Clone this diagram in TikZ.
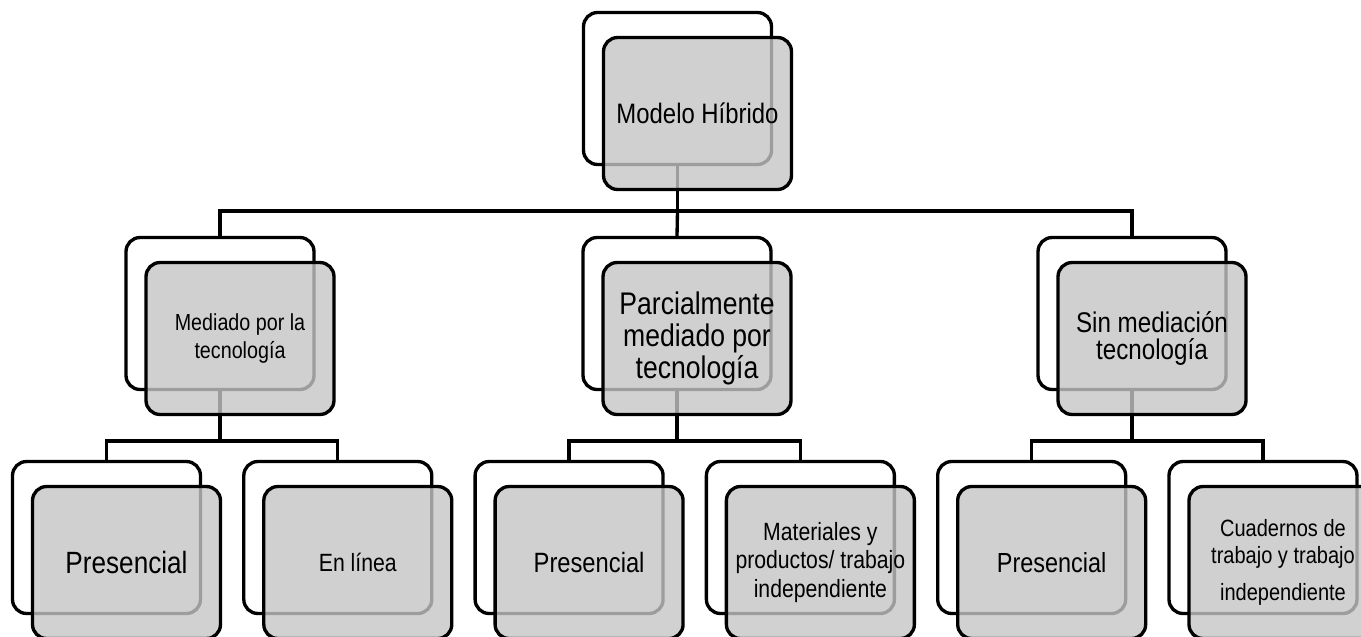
\documentclass[tikz,border=0pt]{standalone}
\usepackage{fontspec}
\setmainfont[FakeStretch=0.85]{Liberation Sans}
\usetikzlibrary{positioning}
\definecolor{boxgray}{RGB}{197,197,197}

\begin{document}
\begin{tikzpicture}[x=0.02cm, y=-0.02cm,
    backbox/.style={rectangle, rounded corners=0.28cm, draw=black, line width=1.9pt,
      fill=white, minimum width=3.76cm, minimum height=3.04cm},
    frontbox/.style={backbox, fill=boxgray, fill opacity=0.8, text opacity=1,
      align=center, inner sep=2pt},
    conn/.style={draw=black, line width=1.9pt}]

  \useasboundingbox (0,0) rectangle (1361,636);

  % back boxes
  \node[backbox] (modeloB)  at (677.5,88.5) {};
  \node[backbox] (mediadoB) at (220,313.5)  {};
  \node[backbox] (parcialB) at (677,313.5)  {};
  \node[backbox] (sinB)     at (1132,313.5) {};

  \node[backbox] (presAB)   at (106.5,537.5) {};
  \node[backbox, right=0.8cm of presAB]  (lineaB) {};
  \node[backbox, right=0.8cm of lineaB]  (presBB) {};
  \node[backbox, right=0.8cm of presBB]  (materB) {};
  \node[backbox, right=0.8cm of materB]  (presCB) {};
  \node[backbox, right=0.8cm of presCB]  (cuadB)  {};

  % connectors
  \coordinate (busTop) at (0,211);
  \coordinate (busLow) at (0,441);

  \draw[conn] (modeloB.south) -- (modeloB.south |- busTop) -| (mediadoB.north);
  \draw[conn] (modeloB.south |- busTop) -| (sinB.north);
  \draw[conn] (modeloB.south |- busTop) -- (parcialB.north);

  \draw[conn] (mediadoB.south) -- (mediadoB.south |- busLow) -| (presAB.north);
  \draw[conn] (mediadoB.south |- busLow) -| (lineaB.north);
  \draw[conn] (parcialB.south) -- (parcialB.south |- busLow) -| (presBB.north);
  \draw[conn] (parcialB.south |- busLow) -| (materB.north);
  \draw[conn] (sinB.south) -- (sinB.south |- busLow) -| (presCB.north);
  \draw[conn] (sinB.south |- busLow) -| (cuadB.north);

  % front boxes
  \node[frontbox, font=\fontsize{16}{19}\selectfont] (modelo) at ([shift={(20,25)}]modeloB) {Modelo Híbrido};
  \node[frontbox, font=\fontsize{13.2}{15.4}\selectfont] (mediado) at ([shift={(20,25)}]mediadoB) {Mediado por la\\tecnología};
  \node[frontbox, font=\fontsize{17.8}{18.4}\selectfont] (parcial) at ([shift={(20,25)}]parcialB) {Parcialmente\\mediado por\\tecnología};
  \node[frontbox, font=\fontsize{16.2}{15.6}\selectfont] (sin) at ([shift={(20,25)}]sinB) {Sin mediación\\tecnología};

  \node[frontbox, font=\fontsize{17.5}{19}\selectfont] (presA) at ([shift={(20,25)}]presAB) {Presencial};
  \node[frontbox, font=\fontsize{14.2}{17}\selectfont] (linea) at ([shift={(20,25)}]lineaB) {En línea};
  \node[frontbox, font=\fontsize{15.9}{17}\selectfont] (presB) at ([shift={(20,25)}]presBB) {Presencial};
  \node[frontbox, font=\fontsize{14.2}{16}\selectfont] (mater) at ([shift={(20,25)}]materB) {Materiales y\\productos/ trabajo\\independiente};
  \node[frontbox, font=\fontsize{13.4}{15.4}\selectfont] (cuad) at ([shift={(20,25)}]cuadB) {Cuadernos de\\trabajo y trabajo\\[6pt]independiente};
  \node[frontbox, font=\fontsize{15.7}{17}\selectfont] (presC) at ([shift={(20,25)}]presCB) {Presencial};

\end{tikzpicture}
\end{document}
